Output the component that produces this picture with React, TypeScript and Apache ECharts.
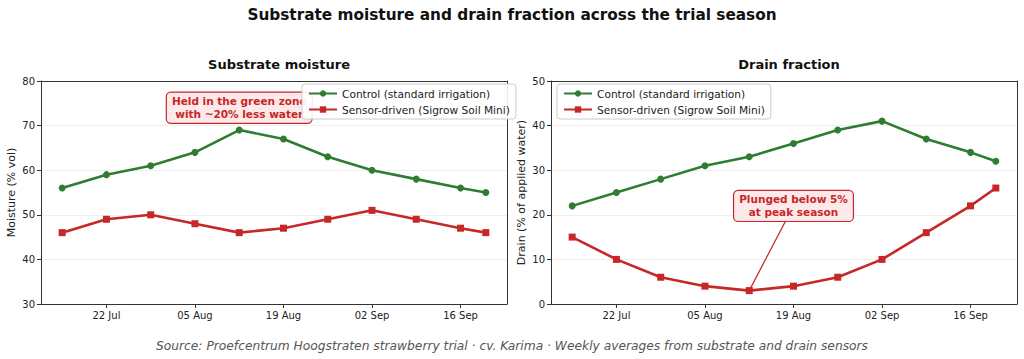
import React, { useEffect, useRef } from "react";
import * as echarts from "echarts";

const weeks = [
  "2024-07-15", "2024-07-22", "2024-07-29", "2024-08-05", "2024-08-12", "2024-08-19",
  "2024-08-26", "2024-09-02", "2024-09-09", "2024-09-16", "2024-09-20",
];
const moistureControl = [56, 59, 61, 64, 69, 67, 63, 60, 58, 56, 55];
const moistureSensor = [46, 49, 50, 48, 46, 47, 49, 51, 49, 47, 46];
const drainControl = [22, 25, 28, 31, 33, 36, 39, 41, 37, 34, 32];
const drainSensor = [15, 10, 6, 4, 3, 4, 6, 10, 16, 22, 26];
const tickDates = ["2024-07-22", "2024-08-05", "2024-08-19", "2024-09-02", "2024-09-16"];
const moistureTicks = { min: 30, max: 80, interval: 10 };
const drainTicks = { min: 0, max: 50, interval: 10 };

const nameControl = "Control (standard irrigation)";
const nameSensor = "Sensor-driven (Sigrow Soil Mini)";
const mainTitle = "Substrate moisture and drain fraction across the trial season";
const leftTitle = "Substrate moisture";
const rightTitle = "Drain fraction";
const sourceText =
  "Source: Proefcentrum Hoogstraten strawberry trial · cv. Karima · Weekly averages from substrate and drain sensors";
const leftNote = { date: "2024-08-12", value: 74, text: "Held in the green zone\nwith ~20% less water" };
const rightNote = { date: "2024-08-19", value: 22, text: "Plunged below 5%\nat peak season", targetDate: "2024-08-12", targetValue: 3 };

const GREEN = "#2e7d32";
const RED = "#c62828";
const FONT = "DejaVu Sans";
const MONTHS = ["Jan", "Feb", "Mar", "Apr", "May", "Jun", "Jul", "Aug", "Sep", "Oct", "Nov", "Dec"];
const ts = (d: string) => Date.parse(d);

export default function App() {
  const ref = useRef<HTMLDivElement>(null);
  useEffect(() => {
    if (!ref.current) return;
    const chart = echarts.init(ref.current, null, { renderer: "svg" });
    const t0 = ts(weeks[0]);
    const t1 = ts(weeks[weeks.length - 1]);
    const pad = (t1 - t0) * 0.05;
    const xMin = t0 - pad;
    const xMax = t1 + pad;
    const tickVals = tickDates.map(ts);
    const fmt = (v: number) => {
      const d = new Date(v);
      const dd = String(d.getUTCDate()).padStart(2, "0");
      return `${dd} ${MONTHS[d.getUTCMonth()]}`;
    };
    const xAxis = (gridIndex: number) => ({
      type: "value",
      gridIndex,
      min: xMin,
      max: xMax,
      axisLine: { show: true, onZero: false, lineStyle: { color: "#333", width: 1 } },
      axisTick: { show: true, customValues: tickVals, length: 4, lineStyle: { color: "#333" } },
      axisLabel: {
        show: true,
        customValues: tickVals,
        formatter: fmt,
        fontFamily: FONT,
        fontSize: 10,
        color: "#222",
        margin: 6,
        hideOverlap: false,
      },
      splitLine: { show: false },
    });
    const topX = (gridIndex: number) => ({
      type: "value",
      gridIndex,
      min: xMin,
      max: xMax,
      position: "top",
      axisLine: { show: true, onZero: false, lineStyle: { color: "#333", width: 1 } },
      axisTick: { show: false },
      axisLabel: { show: false },
      splitLine: { show: false },
    });
    const yAxis = (gridIndex: number, ticks: any, name: string, gap: number) => ({
      type: "value",
      gridIndex,
      min: ticks.min,
      max: ticks.max,
      interval: ticks.interval,
      name,
      nameLocation: "middle",
      nameGap: gap,
      nameTextStyle: { fontFamily: FONT, fontSize: 11, color: "#222" },
      axisLine: { show: true, onZero: false, lineStyle: { color: "#333", width: 1 } },
      axisTick: { show: true, length: 4, lineStyle: { color: "#333" } },
      axisLabel: { fontFamily: FONT, fontSize: 10, color: "#222", margin: 6 },
      splitLine: { show: true, lineStyle: { color: "#ebebeb", width: 0.8 } },
    });
    const rightY = (gridIndex: number, ticks: any) => ({
      type: "value",
      gridIndex,
      min: ticks.min,
      max: ticks.max,
      interval: ticks.interval,
      position: "right",
      axisLine: { show: true, onZero: false, lineStyle: { color: "#333", width: 1 } },
      axisTick: { show: false },
      axisLabel: { show: false },
      splitLine: { show: false },
    });
    const pairs = (vals: number[]) => weeks.map((w, i) => [ts(w), vals[i]]);
    const lineSeries = (name: string, vals: number[], idx: number, color: string, symbol: string, extra: any = {}) => ({
      type: "line",
      name,
      xAxisIndex: idx,
      yAxisIndex: idx,
      data: pairs(vals),
      symbol,
      symbolSize: 7,
      showSymbol: true,
      lineStyle: { color, width: 2.6 },
      itemStyle: { color },
      z: 3,
      ...extra,
    });
    const legend = (left: number, top: number) => ({
      left,
      top,
      orient: "vertical",
      align: "left",
      itemWidth: 28,
      itemHeight: 8,
      itemGap: 5,
      padding: [4, 6, 4, 6],
      backgroundColor: "rgba(255,255,255,0.9)",
      borderColor: "#ccc",
      borderWidth: 1,
      borderRadius: 3,
      textStyle: { fontFamily: FONT, fontSize: 10.6, color: "#222" },
      data: [nameControl, nameSensor],
      z: 10,
    });

    chart.setOption({
      animation: false,
      backgroundColor: "#fff",
      textStyle: { fontFamily: FONT },
      title: [
        { text: mainTitle, left: "center", top: 2, textStyle: { fontFamily: FONT, fontSize: 15.3, fontWeight: "bold", color: "#111" } },
        { text: leftTitle, left: 274, top: 53, textAlign: "center", textStyle: { fontFamily: FONT, fontSize: 13, fontWeight: "bold", color: "#111" } },
        { text: rightTitle, left: 784, top: 53, textAlign: "center", textStyle: { fontFamily: FONT, fontSize: 13, fontWeight: "bold", color: "#111" } },
        { text: sourceText, left: "center", top: 335, textStyle: { fontFamily: FONT, fontSize: 12.25, fontStyle: "italic", fontWeight: "normal", color: "#555" } },
      ],
      grid: [
        { left: 41, top: 81, width: 466, height: 223 },
        { left: 551, top: 81, width: 466, height: 223 },
      ],
      xAxis: [xAxis(0), xAxis(1), topX(0), topX(1)],
      yAxis: [
        yAxis(0, moistureTicks, "Moisture (% vol)", 24),
        yAxis(1, drainTicks, "Drain (% of applied water)", 24),
        rightY(0, moistureTicks),
        rightY(1, drainTicks),
      ],
      legend: [legend(302, 84), legend(557, 84)],
      series: [
        lineSeries(nameControl, moistureControl, 0, GREEN, "circle"),
        lineSeries(nameSensor, moistureSensor, 0, RED, "rect"),
        lineSeries(nameControl, drainControl, 1, GREEN, "circle"),
        lineSeries(nameSensor, drainSensor, 1, RED, "rect", {
          markLine: {
            silent: true,
            symbol: ["none", "arrow"],
            symbolSize: [0, 8],
            label: { show: false },
            lineStyle: { color: RED, width: 1.2, type: "solid" },
            data: [[
              { coord: [ts(rightNote.date), rightNote.value] },
              { coord: [ts(rightNote.targetDate), rightNote.targetValue] },
            ]],
          },
        }),
      ],
    });

    const p1 = chart.convertToPixel({ xAxisIndex: 0, yAxisIndex: 0 } as any, [ts(leftNote.date), leftNote.value]) as number[];
    const p2 = chart.convertToPixel({ xAxisIndex: 1, yAxisIndex: 1 } as any, [ts(rightNote.date), rightNote.value]) as number[];
    const noteStyle = (text: string) => ({
      text,
      fill: RED,
      font: `bold 10.5px "${FONT}"`,
      align: "center",
      verticalAlign: "middle",
      lineHeight: 13,
      backgroundColor: "#fde9ea",
      borderColor: RED,
      borderWidth: 1.2,
      borderRadius: 4,
      padding: [2, 5, 2, 5],
    });
    chart.setOption({
      graphic: [
        { type: "text", x: p1[0], y: p1[1], z: 3, style: noteStyle(leftNote.text) },
        { type: "text", x: p2[0], y: p2[1], z: 5, style: noteStyle(rightNote.text) },
      ],
    });

    return () => chart.dispose();
  }, []);
  return <div ref={ref} style={{ position: "fixed", left: 0, top: 0, width: 1024, height: 359 }} />;
}
